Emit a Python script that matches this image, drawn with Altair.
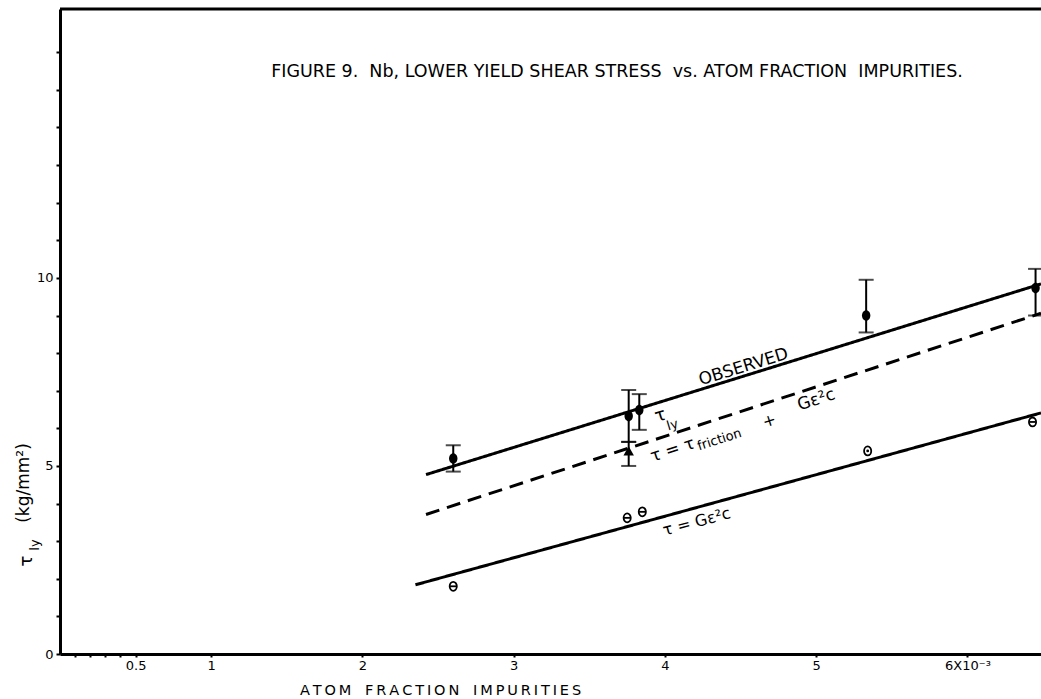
import altair as alt
import pandas as pd

# Atom fraction impurities (units of 1e-3) and lower yield shear stress (kg/mm^2)
obs_c = [2.60, 3.76, 3.83, 5.33, 6.45]
obs_tau = [5.20, 6.33, 6.49, 9.00, 9.73]
obs_hi = [5.55, 7.02, 6.91, 9.95, 10.24]
obs_lo = [4.85, 5.64, 5.96, 8.55, 9.00]

# friction + G e^2 c estimate (triangle)
tri_c = [3.76]
tri_tau = [5.40]
tri_hi = [5.64]
tri_lo = [5.00]

# calculated G e^2 c values (theta symbols)
calc_c = [2.60, 3.75, 3.85, 5.34, 6.43]
calc_tau = [1.80, 3.62, 3.78, 5.40, 6.17]
calc_inner = ["bar", "bar", "bar", "dot", "bar"]

# straight lines: observed (solid), friction + G e^2 c (dashed), G e^2 c (solid)
line_name = ["observed", "friction", "theory"]
line_c0 = [2.42, 2.42, 2.35]
line_tau0 = [4.77, 3.71, 1.84]
line_c1 = [6.486, 6.486, 6.486]
line_tau1 = [9.84, 9.06, 6.41]
line_dash = [[1, 0], [14, 8], [1, 0]]

x_tick_values = [0.1, 0.2, 0.3, 0.4, 0.5, 1, 2, 3, 4, 5, 6]
x_tick_labels = ["", "", "", "", "0.5", "1", "2", "3", "4", "5", "6X10\u207b\u00b3"]
y_tick_values = list(range(0, 17))
y_tick_labels = {0: "0", 5: "5", 10: "10"}

X_MAX = 6.486
Y_MAX = 17.15
W, H = 981, 645
FONT = "DejaVu Sans"
NB = "\u00a0"
THIN = "\u2009"


def label_expr(values, labels):
    expr = "''"
    for v, t in reversed(list(zip(values, labels))):
        expr = f"datum.value == {v} ? '{t}' : ({expr})"
    return expr


def spaced(words):
    return (NB * 3).join(THIN.join(w) for w in words)


x_enc = alt.X(
    "c:Q",
    scale=alt.Scale(domain=[0, X_MAX], nice=False, zero=False),
    axis=alt.Axis(
        values=x_tick_values,
        labelExpr=label_expr(x_tick_values, x_tick_labels),
        tickSize=3, tickWidth=2, tickColor="black",
        domainWidth=3, domainColor="black",
        labelFont=FONT, labelFontSize=13, labelColor="black", labelPadding=2,
        labelFlush=False, labelOverlap=False, grid=False,
        title=spaced(["ATOM", "FRACTION", "IMPURITIES"]),
        titleFont=FONT, titleFontSize=14.5, titleFontWeight="normal", titleColor="black",
        titleX=380, titleY=40, titleAlign="center", titleBaseline="alphabetic",
    ),
)
y_vals = list(y_tick_values)
y_labs = [y_tick_labels.get(v, "") for v in y_tick_values]
y_enc = alt.Y(
    "tau:Q",
    scale=alt.Scale(domain=[0, Y_MAX], nice=False, zero=True),
    axis=alt.Axis(
        values=y_vals,
        labelExpr=label_expr(y_vals, y_labs),
        tickSize=4, tickWidth=2, tickColor="black",
        domainWidth=3, domainColor="black",
        labelFont=FONT, labelFontSize=13, labelColor="black", labelPadding=3,
        labelFlush=False, labelOverlap=False, grid=False, title=None,
    ),
)

lines_df = pd.DataFrame({
    "name": line_name * 2,
    "c": line_c0 + line_c1,
    "tau": line_tau0 + line_tau1,
    "order": [0, 0, 0, 1, 1, 1],
})
lines = alt.layer(*[
    alt.Chart(lines_df[lines_df["name"] == n]).mark_line(
        color="black", strokeWidth=3, strokeDash=d
    ).encode(x=x_enc, y=y_enc, order="order:Q")
    for n, d in zip(line_name, line_dash)
])

obs_df = pd.DataFrame({"c": obs_c, "tau": obs_tau, "hi": obs_hi, "lo": obs_lo})
tri_df = pd.DataFrame({"c": tri_c, "tau": tri_tau, "hi": tri_hi, "lo": tri_lo})
err_df = pd.concat([obs_df, tri_df], ignore_index=True)

err_bars = alt.Chart(err_df).mark_rule(color="black", strokeWidth=2).encode(
    x="c:Q", y="lo:Q", y2="hi:Q"
)
caps_hi = alt.Chart(err_df).mark_tick(color="black", thickness=2, size=15, orient="horizontal").encode(
    x="c:Q", y="hi:Q"
)
caps_lo = alt.Chart(err_df).mark_tick(color="black", thickness=2, size=15, orient="horizontal").encode(
    x="c:Q", y="lo:Q"
)
ELLIPSE = "M-0.8,0A0.8,1,0,1,0,0.8,0A0.8,1,0,1,0,-0.8,0Z"
obs_pts = alt.Chart(obs_df).mark_point(
    shape=ELLIPSE, filled=True, color="black", size=110, opacity=1
).encode(x="c:Q", y="tau:Q")
tri_pts = alt.Chart(tri_df).mark_point(
    shape="triangle-up", filled=True, color="black", size=110, opacity=1
).encode(x="c:Q", y="tau:Q")

calc_df = pd.DataFrame({"c": calc_c, "tau": calc_tau, "inner": calc_inner})
calc_ring = alt.Chart(calc_df).mark_point(
    shape=ELLIPSE, filled=False, color="black", size=80, strokeWidth=1.8, opacity=1
).encode(x="c:Q", y="tau:Q")
calc_bar = alt.Chart(calc_df).transform_filter(
    alt.datum.inner == "bar"
).mark_point(
    shape="stroke", filled=False, color="black", size=40, strokeWidth=1.8, opacity=1
).encode(x="c:Q", y="tau:Q")
calc_dot = alt.Chart(calc_df).transform_filter(
    alt.datum.inner == "dot"
).mark_point(
    shape="circle", filled=True, color="black", size=8, opacity=1
).encode(x="c:Q", y="tau:Q")

# labels written along the lines
ann_text = ["OBSERVED", "\u03c4", "ly", "\u03c4 = \u03c4", "friction", "+",
            "G\u03b5\u00b2c", "\u03c4 = G\u03b5\u00b2c"]
ann_c = [4.52, 3.97, 4.05, 4.05, 4.36, 4.69, 5.00, 4.21]
ann_tau = [7.63, 6.33, 6.09, 5.42, 5.70, 6.20, 6.76, 3.51]
ann_size = [17, 18, 13, 17, 13, 16, 17, 16]
ann_angle = [343, 343, 343, 342, 342, 342, 342, 345]
ann_df = pd.DataFrame({"c": ann_c, "tau": ann_tau, "text": ann_text,
                       "size": ann_size, "angle": ann_angle})
ann = alt.Chart(ann_df).mark_text(
    font=FONT, color="black", align="center", baseline="middle"
).encode(
    x="c:Q", y="tau:Q", text="text:N",
    size=alt.Size("size:Q", scale=None),
    angle=alt.Angle("angle:Q", scale=None),
)

# frame top edge
top_edge = alt.Chart(pd.DataFrame({"k": [0]})).mark_rule(
    color="black", strokeWidth=3
).encode(x=alt.value(0), x2=alt.value(W), y=alt.value(0))

# figure caption inside the frame
caption_text = (f"FIGURE 9.{NB} Nb, LOWER YIELD SHEAR STRESS{NB} vs. "
                f"ATOM FRACTION{NB} IMPURITIES.")
caption = alt.Chart(pd.DataFrame({"k": [0]})).mark_text(
    text=caption_text,
    font=FONT, fontSize=17.5, color="black", align="center", baseline="middle",
).encode(x=alt.value(557), y=alt.value(63))

# vertical axis title: tau_ly (kg/mm^2)
ytitle_df = pd.DataFrame({
    "text": ["\u03c4", "ly", "(kg/mm\u00b2)"],
    "px": [-33, -25, -36],
    "py": [552, 536, 474],
    "size": [18, 13, 17],
})
ytitle = alt.Chart(ytitle_df).mark_text(
    font=FONT, color="black", align="center", baseline="middle", angle=270
).encode(
    x=alt.X("px:Q", scale=None), y=alt.Y("py:Q", scale=None),
    text="text:N", size=alt.Size("size:Q", scale=None),
)

chart = alt.layer(
    lines, err_bars, caps_hi, caps_lo, obs_pts, tri_pts, calc_ring, calc_bar, calc_dot,
    ann, top_edge, caption, ytitle,
).properties(
    width=W, height=H,
    padding={"left": 60, "top": 9, "right": 0, "bottom": 45},
    autosize=alt.AutoSizeParams(type="none"),
    background="white",
).configure_view(stroke=None)

chart.save("out.html", embed_options={"renderer": "svg", "actions": False})
